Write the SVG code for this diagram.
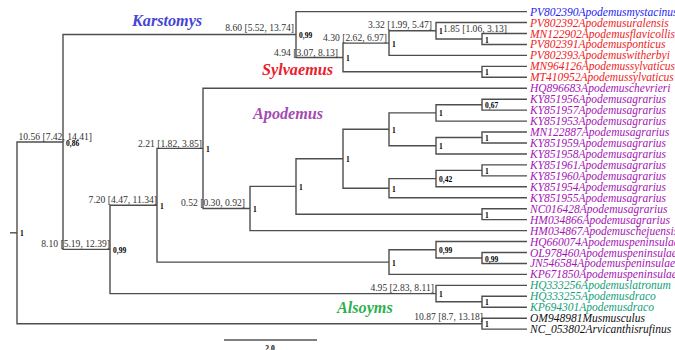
<svg xmlns="http://www.w3.org/2000/svg" width="675" height="350" viewBox="0 0 675 350">
<style>
.br{fill:none;stroke:#4e4e4e;stroke-width:1.4}
.tip{font-family:"Liberation Serif",serif;font-style:italic;font-size:11.5px}
.bl{font-family:"Liberation Serif",serif;font-size:9.6px;fill:#333;text-anchor:end}
.sp{font-family:"Liberation Serif",serif;font-size:7.5px;font-weight:bold;fill:#000}
.cl{font-family:"Liberation Serif",serif;font-style:italic;font-weight:bold;font-size:16.2px}
.b{fill:#2323f0}.r{fill:#ee1c24}.p{fill:#a514b4}.g{fill:#12a07a}.k{fill:#111}
</style>
<rect width="675" height="350" fill="#fff"/>
<g id="connectors" class="br">
<path d="M10 232.8 H17"/>
<path d="M63 142 H17 V323.7 H482"/>
<path d="M296 34.5 H63 V249.4 H110"/>
<path d="M527 11.6 H296 V57.45 H343"/>
<path d="M389 43.1 H343 V71.8 H482"/>
<path d="M436 30.8 H389 V55.4 H527"/>
<path d="M527 22.55 H436 V39 H482"/>
<path d="M527 33.5 H482 V44.45 H527"/>
<path d="M527 66.35 H482 V77.3 H527"/>
<path d="M157 205.2 H110 V293.6 H436"/>
<path d="M203 148.4 H157 V262.1 H389"/>
<path d="M527 88.25 H203 V208.5 H250"/>
<path d="M296 186.4 H250 V230.6 H527"/>
<path d="M343 158.7 H296 V214.2 H482"/>
<path d="M389 129.3 H343 V188.2 H389"/>
<path d="M436 112.9 H389 V145.7 H436"/>
<path d="M436 178.6 H389 V197.75 H527"/>
<path d="M482 104.7 H436 V121.1 H527"/>
<path d="M482 137.5 H436 V153.95 H527"/>
<path d="M527 99.2 H482 V110.15 H527"/>
<path d="M527 132.05 H482 V143 H527"/>
<path d="M482 170.4 H436 V186.8 H527"/>
<path d="M527 164.9 H482 V175.85 H527"/>
<path d="M527 208.7 H482 V219.65 H527"/>
<path d="M436 249.8 H389 V274.4 H527"/>
<path d="M527 252.5 H482 V263.45 H527"/>
<path d="M527 241.55 H436 V258 H482"/>
<path d="M527 285.35 H436 V301.8 H482"/>
<path d="M527 296.3 H482 V307.25 H527"/>
<path d="M527 318.2 H482 V329.15 H527"/>
</g>
<g id="clades" class="cl">
<text x="132" y="25.5" fill="#4545d2">Karstomys</text>
<text x="262" y="74.5" fill="#e8202c">Sylvaemus</text>
<text x="253" y="118.5" fill="#a44ab2">Apodemus</text>
<text x="337" y="312.5" fill="#2fb04e">Alsoyms</text>
</g>
<g id="node-root"><text class="sp" x="20" y="236">1</text></g>
<g id="node-A"><text class="bl" x="92" y="139.5">10.56 [7.42, 14.41]</text><text class="sp" x="66" y="145.5">0,86</text></g>
<g id="node-B"><text class="bl" x="294" y="30.5">8.60 [5.52, 13.74]</text><text class="sp" x="299" y="38">0,99</text></g>
<g id="node-C"><text class="bl" x="338" y="55.5">4.94 [3.07, 8.13]</text><text class="sp" x="346" y="61">1</text></g>
<g id="node-D"><text class="bl" x="387" y="40.5">4.30 [2.62, 6.97]</text><text class="sp" x="392" y="46.6">1</text></g>
<g id="node-E"><text class="bl" x="432" y="27.5">3.32 [1.99, 5.47]</text><text class="sp" x="439" y="34.3">1</text></g>
<g id="node-F"><text class="bl" x="507" y="31.5">1.85 [1.06, 3.13]</text><text class="sp" x="485" y="42.5">1</text></g>
<g id="node-G"><text class="sp" x="485" y="75.3">1</text></g>
<g id="node-H"><text class="bl" x="110" y="246.5">8.10 [5.19, 12.39]</text><text class="sp" x="113" y="253">0,99</text></g>
<g id="node-I"><text class="bl" x="157" y="202.5">7.20 [4.47, 11.34]</text><text class="sp" x="160" y="208.7">1</text></g>
<g id="node-J"><text class="bl" x="202" y="146.5">2.21 [1.82, 3.85]</text><text class="sp" x="206" y="152">1</text></g>
<g id="node-K"><text class="bl" x="245" y="205.5">0.52 [0.30, 0.92]</text><text class="sp" x="253" y="212">1</text></g>
<g id="node-L"><text class="sp" x="299" y="190">1</text></g>
<g id="node-M"><text class="sp" x="346" y="162.2">1</text></g>
<g id="node-N"><text class="sp" x="392" y="132.8">1</text></g>
<g id="node-O"><text class="sp" x="392" y="191.7">1</text></g>
<g id="node-P"><text class="sp" x="439" y="116.4">1</text></g>
<g id="node-Q"><text class="sp" x="439" y="149.2">1</text></g>
<g id="node-R"><text class="sp" x="485" y="108.2">0,67</text></g>
<g id="node-S"><text class="sp" x="485" y="141">1</text></g>
<g id="node-T"><text class="sp" x="439" y="182.1">0,42</text></g>
<g id="node-U"><text class="sp" x="485" y="173.9">1</text></g>
<g id="node-NC"><text class="sp" x="485" y="217.7">1</text></g>
<g id="node-V"><text class="sp" x="392" y="265.6">1</text></g>
<g id="node-W"><text class="sp" x="485" y="261.5">0,99</text></g>
<g id="node-X"><text class="sp" x="439" y="253.3">0,99</text></g>
<g id="node-Y"><text class="bl" x="434" y="290.5">4.95 [2.83, 8.11]</text><text class="sp" x="439" y="297.1">1</text></g>
<g id="node-Z"><text class="sp" x="485" y="305.3">1</text></g>
<g id="node-Out"><text class="bl" x="483" y="319.5">10.87 [8.7, 13.18]</text><text class="sp" x="485" y="327.2">1</text></g>
<g id="tips" class="tip">
<g id="tip1"><text class="b" x="530" y="15.6">PV802390Apodemusmystacinus</text></g>
<g id="tip2"><text class="r" x="530" y="26.55">PV802392Apodemusuralensis</text></g>
<g id="tip3"><text class="r" x="530" y="37.5">MN122902Apodemusflavicollis</text></g>
<g id="tip4"><text class="r" x="530" y="48.45">PV802391Apodemusponticus</text></g>
<g id="tip5"><text class="r" x="530" y="59.4">PV802393Apodemuswitherbyi</text></g>
<g id="tip6"><text class="r" x="530" y="70.35">MN964126Apodemussylvaticus</text></g>
<g id="tip7"><text class="r" x="530" y="81.3">MT410952Apodemussylvaticus</text></g>
<g id="tip8"><text class="p" x="530" y="92.25">HQ896683Apodemuschevrieri</text></g>
<g id="tip9"><text class="p" x="530" y="103.2">KY851956Apodemusagrarius</text></g>
<g id="tip10"><text class="p" x="530" y="114.15">KY851957Apodemusagrarius</text></g>
<g id="tip11"><text class="p" x="530" y="125.1">KY851953Apodemusagrarius</text></g>
<g id="tip12"><text class="p" x="530" y="136.05">MN122887Apodemusagrarius</text></g>
<g id="tip13"><text class="p" x="530" y="147">KY851959Apodemusagrarius</text></g>
<g id="tip14"><text class="p" x="530" y="157.95">KY851958Apodemusagrarius</text></g>
<g id="tip15"><text class="p" x="530" y="168.9">KY851961Apodemusagrarius</text></g>
<g id="tip16"><text class="p" x="530" y="179.85">KY851960Apodemusagrarius</text></g>
<g id="tip17"><text class="p" x="530" y="190.8">KY851954Apodemusagrarius</text></g>
<g id="tip18"><text class="p" x="530" y="201.75">KY851955Apodemusagrarius</text></g>
<g id="tip19"><text class="p" x="530" y="212.7">NC016428Apodemusagrarius</text></g>
<g id="tip20"><text class="p" x="530" y="223.65">HM034866Apodemusagrarius</text></g>
<g id="tip21"><text class="p" x="530" y="234.6">HM034867Apodemuschejuensis</text></g>
<g id="tip22"><text class="p" x="530" y="245.55">HQ660074Apodemuspeninsulae</text></g>
<g id="tip23"><text class="p" x="530" y="256.5">OL978460Apodemuspeninsulae</text></g>
<g id="tip24"><text class="p" x="530" y="267.45">JN546584Apodemuspeninsulae</text></g>
<g id="tip25"><text class="p" x="530" y="278.4">KP671850Apodemuspeninsulae</text></g>
<g id="tip26"><text class="g" x="530" y="289.35">HQ333256Apodemuslatronum</text></g>
<g id="tip27"><text class="g" x="530" y="300.3">HQ333255Apodemusdraco</text></g>
<g id="tip28"><text class="g" x="530" y="311.25">KP694301Apodemusdraco</text></g>
<g id="tip29"><text class="k" x="530" y="322.2">OM948981Musmusculus</text></g>
<g id="tip30"><text class="k" x="530" y="333.15">NC_053802Arvicanthisrufinus</text></g>
</g>
<g id="scale">
<path d="M224 340 H317" stroke="#555" stroke-width="1.4"/>
<text class="sp" x="270" y="351" text-anchor="middle" font-size="8">2.0</text>
</g>
</svg>
